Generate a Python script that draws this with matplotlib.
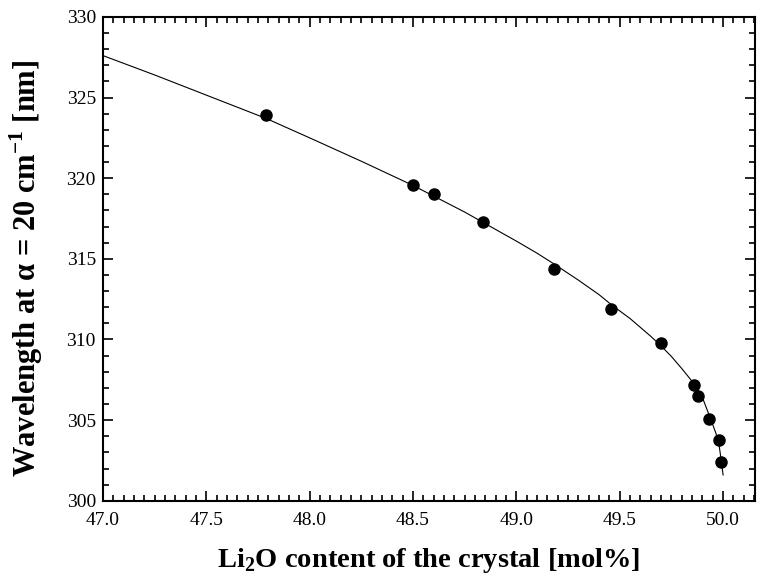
import numpy as np
import matplotlib
matplotlib.use('Agg')
import matplotlib.pyplot as plt
from matplotlib.ticker import MultipleLocator, FormatStrFormatter

plt.rcParams['font.family'] = ['Liberation Serif', 'DejaVu Serif']
plt.rcParams['mathtext.fontset'] = 'custom'
plt.rcParams['mathtext.rm'] = 'Liberation Serif'
plt.rcParams['mathtext.bf'] = 'Liberation Serif:bold'

# measured points
li2o = [47.79, 48.50, 48.60, 48.84, 49.18, 49.46, 49.70, 49.86, 49.88, 49.93, 49.98, 49.99]
wavelength = [323.9, 319.6, 319.0, 317.3, 314.4, 311.9, 309.8, 307.2, 306.5, 305.1, 303.8, 302.4]

# fitted curve
fit_x = [47.0, 47.25, 47.5, 47.79, 48.0, 48.25, 48.5, 48.75, 48.84, 49.0, 49.1, 49.18, 49.3,
         49.4, 49.46, 49.55, 49.6, 49.65, 49.7, 49.75, 49.8, 49.86, 49.9, 49.93, 49.965, 49.98,
         49.99, 50.0]
fit_y = [327.6, 326.4, 325.15, 323.7, 322.5, 321.05, 319.55, 317.9, 317.25, 316.1, 315.35, 314.7,
         313.68, 312.78, 312.15, 311.3, 310.75, 310.2, 309.6, 308.95, 308.2, 307.25, 306.4, 305.4,
         304.2, 303.5, 302.6, 301.6]

fig = plt.figure(figsize=(7.62, 5.81), dpi=100)
ax = fig.add_axes([0.135, 0.138, 0.856, 0.833])

ax.plot(fit_x, fit_y, color='black', lw=0.8)
ax.plot(li2o, wavelength, 'o', color='black', markersize=8)

ax.set_xlim(47.0, 50.155)
ax.set_ylim(300, 330)
ax.xaxis.set_major_locator(MultipleLocator(0.5))
ax.xaxis.set_minor_locator(MultipleLocator(0.05))
ax.xaxis.set_major_formatter(FormatStrFormatter('%.1f'))
ax.yaxis.set_major_locator(MultipleLocator(5))
ax.yaxis.set_minor_locator(MultipleLocator(1))

ax.tick_params(which='both', direction='in', top=True, right=True, width=1.2, labelsize=14)
ax.tick_params(which='major', length=7)
ax.tick_params(axis='x', which='major', pad=8)
ax.tick_params(axis='y', which='major', pad=5)
ax.tick_params(which='minor', length=4)
for s in ax.spines.values():
    s.set_linewidth(1.5)

ax.set_xlabel(r'Li$_\mathbf{2}$O content of the crystal [mol%]', fontsize=20.5,
              fontweight='bold', labelpad=12)
ax.set_ylabel('Wavelength at α = 20 cm$^{\\mathbf{-1}}$ [nm]', fontsize=22,
              fontweight='bold')
ax.yaxis.set_label_coords(-0.088, 0.48)

fig.savefig('out.png', dpi=100)
